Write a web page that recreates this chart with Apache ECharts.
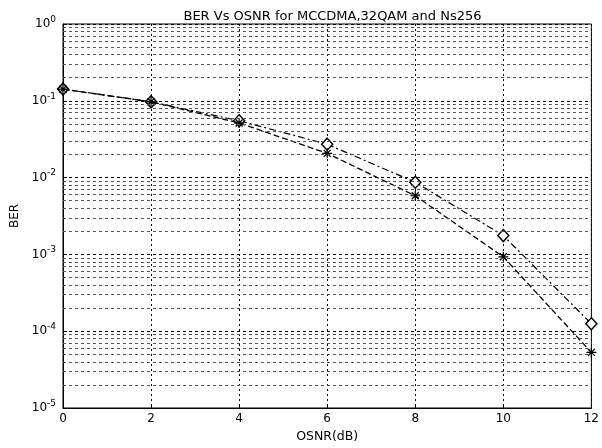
<!DOCTYPE html>
<html>
<head>
<meta charset="utf-8">
<script src="https://cdn.jsdelivr.net/npm/echarts@6/dist/echarts.min.js"></script>
<style>html,body{margin:0;padding:0;background:#fff;}#c{width:602px;height:448px;}</style>
</head>
<body>
<div id="c"></div>
<script>
var osnr = [0, 2, 4, 6, 8, 10, 12];
var berDiamond = [0.142, 0.097, 0.055, 0.0272, 0.0087, 0.00176, 0.000125];
var berStar = [0.142, 0.097, 0.0515, 0.0207, 0.0058, 0.00093, 0.000053];
var xTicks = [0, 2, 4, 6, 8, 10, 12];
var yDecades = [-5, -4, -3, -2, -1, 0];

var minorLines = [];
for (var d = 0; d < yDecades.length - 1; d++) {
  for (var m = 2; m <= 9; m++) {
    minorLines.push({ yAxis: m * Math.pow(10, yDecades[d]) });
  }
}

var starPath = 'path://M8.8 0L11.2 0L11.2 20L8.8 20Z M0 8.8L20 8.8L20 11.2L0 11.2Z M2.1 3.9L3.9 2.1L17.9 16.1L16.1 17.9Z M16.1 2.1L17.9 3.9L3.9 17.9L2.1 16.1Z';
var diamondPath = 'path://M10 0L20 11L10 22L0 11Z';

function pairs(xs, ys) { return xs.map(function (x, i) { return [x, ys[i]]; }); }

var FONT = 'DejaVu Sans, Liberation Sans, Arial, sans-serif';
var chart = echarts.init(document.getElementById('c'), null, { renderer: 'canvas' });
chart.setOption({
  animation: false,
  backgroundColor: '#fff',
  textStyle: { fontFamily: FONT },
  title: {
    text: 'BER Vs OSNR for MCCDMA,32QAM and Ns256',
    left: 327.5, textAlign: 'center', top: 5,
    textStyle: { fontSize: 13, fontWeight: 'normal', color: '#000', fontFamily: FONT }
  },
  grid: { left: 63, right: 10, top: 24, bottom: 32, show: true, borderColor: '#000', borderWidth: 1, backgroundColor: 'transparent' },
  xAxis: {
    type: 'value', min: 0, max: 12, interval: 2,
    name: 'OSNR(dB)', nameLocation: 'middle', nameGap: 22,
    nameTextStyle: { fontSize: 12.5, color: '#000', fontFamily: FONT },
    axisLine: { show: true, lineStyle: { color: '#000', width: 1 } },
    axisTick: { show: true, inside: true, length: 4, lineStyle: { color: '#000' } },
    axisLabel: { fontSize: 12, color: '#000', margin: 5, fontFamily: FONT,
      formatter: function (v) { return xTicks.indexOf(v) >= 0 ? String(v) : ''; } },
    splitLine: { show: true, lineStyle: { color: '#000', type: [2, 3], width: 1 } }
  },
  yAxis: {
    type: 'log', logBase: 10, min: 1e-5, max: 1,
    name: 'BER', nameLocation: 'middle', nameGap: 37,
    nameTextStyle: { fontSize: 12, color: '#000', fontFamily: FONT },
    axisLine: { show: true, lineStyle: { color: '#000', width: 1 } },
    axisTick: { show: true, inside: true, length: 4, lineStyle: { color: '#000' } },
    axisLabel: {
      fontSize: 12, color: '#000', margin: 7, fontFamily: FONT,
      formatter: function (v) { var e = Math.round(Math.log10(v)); return '10{s|' + e + '}'; },
      rich: { s: { fontSize: 9, verticalAlign: 'top', padding: [0, 0, 9, 0], color: '#000', fontFamily: FONT } }
    },
    splitLine: { show: true, lineStyle: { color: '#000', type: [3, 3], width: 1 } },
    minorTick: { show: false }
  },
  series: [
    {
      name: 'grid', type: 'line', data: [], silent: true,
      markLine: {
        silent: true, symbol: 'none', label: { show: false }, precision: 12,
        lineStyle: { color: '#555', type: [3, 3], width: 1 },
        data: minorLines
      }
    },
    {
      name: 'diamond', type: 'line', data: pairs(osnr, berDiamond),
      symbol: diamondPath, symbolSize: [11, 12], showAllSymbol: true,
      lineStyle: { color: '#000', width: 1.2, type: [7, 3, 2, 3] },
      itemStyle: { color: '#fff', borderColor: '#000', borderWidth: 1.5 },
      z: 3
    },
    {
      name: 'star', type: 'line', data: pairs(osnr, berStar),
      symbol: starPath, symbolSize: 10, showAllSymbol: true,
      lineStyle: { color: '#000', width: 1.3, type: [6, 3] },
      itemStyle: { color: '#000', borderWidth: 0 },
      z: 4
    }
  ]
});
</script>
</body>
</html>
